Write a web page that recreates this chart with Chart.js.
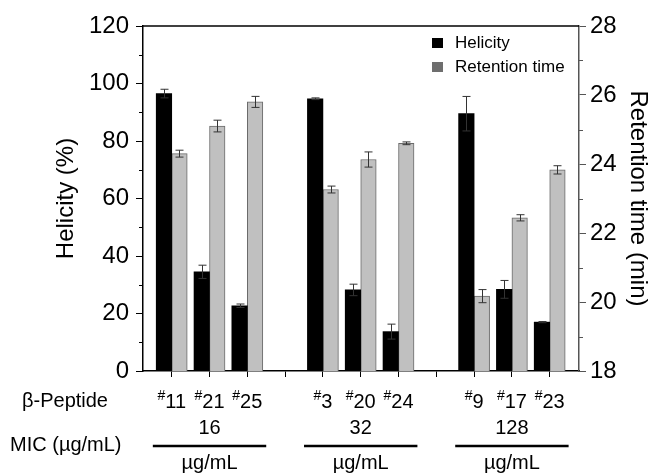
<!DOCTYPE html>
<html>
<head>
<meta charset="utf-8">
<script src="https://cdn.jsdelivr.net/npm/chart.js@4/dist/chart.umd.min.js"></script>
<style>
    html, body { margin: 0; padding: 0; background: #fff; }
    #wrap { width: 654px; height: 473px; position: relative; }
</style>
</head>
<body>
<div id="wrap"><canvas id="chart"></canvas></div>
<script>
// peptide labels, '' marks the empty slot between MIC groups
const peptides = ['11', '21', '25', '', '3', '20', '24', '', '9', '17', '23'];
const helicity = [96.5, 34.5, 22.7, null, 94.7, 28.2, 13.7, null, 89.5, 28.4, 17.0];
const helicityErr = [1.5, 2.3, 0.6, null, 0.3, 2.0, 2.6, null, 6.0, 3.1, 0.2];
const retention = [24.30, 25.10, 25.80, null, 23.26, 24.13, 24.60, null, 20.17, 22.44, 23.83];
const retentionErr = [0.10, 0.17, 0.16, null, 0.10, 0.22, 0.04, null, 0.19, 0.09, 0.12];
const micGroups = ['16', '32', '128'];
const micCenters = [1, 5, 9];

const FONT = '"Liberation Sans", Arial, sans-serif';

function toPoints(values) {
    return values.map((v, i) => ({ x: i, y: v }));
}

const errorBars = {
    id: 'errorBars',
    afterDatasetsDraw(chart) {
        const ctx = chart.ctx;
        const errs = [helicityErr, retentionErr];
        ctx.save();
        ctx.strokeStyle = '#333';
        ctx.lineWidth = 1;
        chart.data.datasets.forEach((ds, d) => {
            const meta = chart.getDatasetMeta(d);
            const scale = chart.scales[ds.yAxisID];
            meta.data.forEach((el, i) => {
                const v = ds.data[i].y;
                const e = errs[d][i];
                if (v === null || e === null) return;
                const top = scale.getPixelForValue(v + e);
                const bot = scale.getPixelForValue(v - e);
                const x = Math.round(el.x) + 0.5;
                ctx.beginPath();
                ctx.moveTo(x, top);
                ctx.lineTo(x, bot);
                ctx.moveTo(x - 4, top);
                ctx.lineTo(x + 4, top);
                ctx.moveTo(x - 4, bot);
                ctx.lineTo(x + 4, bot);
                ctx.stroke();
            });
        });
        ctx.restore();
    }
};

const decorations = {
    id: 'decorations',
    afterDraw(chart) {
        const ctx = chart.ctx;
        const area = chart.chartArea;
        const xs = chart.scales.x;
        const y = chart.scales.y;
        const y2 = chart.scales.y2;
        ctx.save();

        // top frame line
        ctx.strokeStyle = '#000';
        ctx.lineWidth = 1.5;
        ctx.beginPath();
        ctx.moveTo(area.left, area.top);
        ctx.lineTo(area.right, area.top);
        ctx.stroke();

        // minor ticks
        ctx.lineWidth = 1;
        for (let v = 10; v < 120; v += 20) {
            const py = Math.round(y.getPixelForValue(v)) + 0.5;
            ctx.beginPath();
            ctx.moveTo(area.left - 4, py);
            ctx.lineTo(area.left, py);
            ctx.stroke();
        }
        ctx.strokeStyle = '#555';
        for (let v = 19; v < 28; v += 2) {
            const py = Math.round(y2.getPixelForValue(v)) + 0.5;
            ctx.beginPath();
            ctx.moveTo(area.right, py);
            ctx.lineTo(area.right + 4, py);
            ctx.stroke();
        }

        // axis titles
        ctx.fillStyle = '#000';
        ctx.textAlign = 'center';
        ctx.textBaseline = 'middle';
        ctx.font = '24px ' + FONT;
        const midY = (area.top + area.bottom) / 2;
        ctx.save();
        ctx.translate(66, midY);
        ctx.rotate(-Math.PI / 2);
        ctx.fillText('Helicity (%)', 0, 0);
        ctx.restore();
        ctx.save();
        ctx.translate(638, midY);
        ctx.rotate(Math.PI / 2);
        ctx.fillText('Retention time (min)', 0, 0);
        ctx.restore();

        // legend
        ctx.textAlign = 'left';
        ctx.font = '17px ' + FONT;
        ctx.fillStyle = '#000';
        ctx.fillRect(432, 38, 11, 10);
        ctx.fillText('Helicity', 455, 43);
        ctx.fillStyle = '#6e6e6e';
        ctx.fillRect(432, 62, 11, 10);
        ctx.fillStyle = '#000';
        ctx.fillText('Retention time', 455, 67);

        // peptide row
        ctx.font = '20px ' + FONT;
        ctx.fillText('\u03b2-Peptide', 22, 401);
        ctx.fillText('MIC (\u00b5g/mL)', 10, 445);
        peptides.forEach((p, i) => {
            if (!p) return;
            const cx = xs.getPixelForValue(i);
            ctx.font = '14px ' + FONT;
            const wh = ctx.measureText('#').width;
            ctx.font = '20px ' + FONT;
            const wn = ctx.measureText(p).width;
            const x0 = cx - (wh + wn) / 2;
            ctx.font = '14px ' + FONT;
            ctx.fillText('#', x0, 396);
            ctx.font = '20px ' + FONT;
            ctx.fillText(p, x0 + wh, 402);
        });

        // MIC groups
        const slot = xs.getPixelForValue(1) - xs.getPixelForValue(0);
        ctx.textAlign = 'center';
        micGroups.forEach((g, k) => {
            const cx = xs.getPixelForValue(micCenters[k]);
            ctx.fillText(g, cx, 428);
            ctx.lineWidth = 2.5;
            ctx.strokeStyle = '#000';
            ctx.beginPath();
            ctx.moveTo(cx - 1.5 * slot, 446);
            ctx.lineTo(cx + 1.5 * slot, 446);
            ctx.stroke();
            ctx.fillText('\u00b5g/mL', cx, 463);
        });

        ctx.restore();
    }
};

new Chart(document.getElementById('chart'), {
    type: 'bar',
    data: {
        datasets: [{
            label: 'Helicity',
            data: toPoints(helicity),
            yAxisID: 'y',
            backgroundColor: '#000',
            borderWidth: 0,
            barThickness: 15.5
        }, {
            label: 'Retention time',
            data: toPoints(retention),
            yAxisID: 'y2',
            backgroundColor: '#c0c0c0',
            borderColor: '#6a6a6a',
            borderWidth: 1,
            barThickness: 15.5
        }]
    },
    options: {
        responsive: true,
        maintainAspectRatio: false,
        animation: false,
        layout: { padding: { top: 26, left: 0, right: 0, bottom: 0 } },
        plugins: {
            legend: { display: false },
            tooltip: { enabled: false }
        },
        scales: {
            x: {
                type: 'linear',
                offset: false,
                min: -0.76,
                max: 10.775,
                afterFit: s => { s.height = 102; },
                ticks: { stepSize: 1, includeBounds: false, display: false },
                grid: { offset: false, drawOnChartArea: false, tickLength: 6, color: '#000' },
                border: { color: '#000', width: 1.5 }
            },
            y: {
                position: 'left',
                min: 0,
                max: 120,
                afterFit: s => { s.width = 143; },
                ticks: { stepSize: 20, color: '#000', padding: 7, font: { family: FONT, size: 24 } },
                grid: { drawOnChartArea: false, tickLength: 7, color: '#000' },
                border: { color: '#000', width: 1.5 }
            },
            y2: {
                position: 'right',
                min: 18,
                max: 28,
                afterFit: s => { s.width = 75; },
                ticks: { stepSize: 2, color: '#000', padding: 4, font: { family: FONT, size: 24 } },
                grid: { drawOnChartArea: false, tickLength: 7, color: '#555' },
                border: { color: '#555', width: 1.5 }
            }
        }
    },
    plugins: [errorBars, decorations]
});
</script>
</body>
</html>
